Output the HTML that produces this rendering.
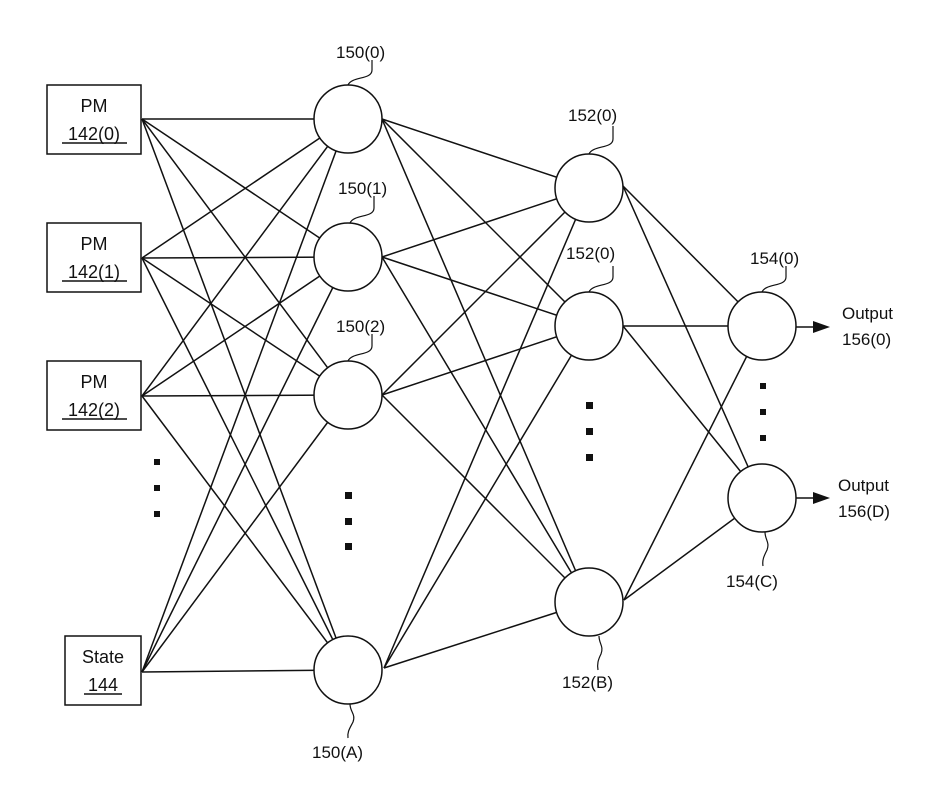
<!DOCTYPE html>
<html><head><style>
body{margin:0;background:#fff;}
svg{display:block;}
text{font-family:"Liberation Sans",sans-serif;fill:#111;}
</style></head><body>
<svg width="939" height="788" viewBox="0 0 939 788" xmlns="http://www.w3.org/2000/svg">
<g stroke="#111" stroke-width="1.5" fill="none">
<line x1="142" y1="119" x2="348" y2="119"/><line x1="142" y1="119" x2="348" y2="257"/><line x1="142" y1="119" x2="348" y2="395"/><line x1="142" y1="119" x2="348" y2="670"/>
<line x1="142" y1="258" x2="348" y2="119"/><line x1="142" y1="258" x2="348" y2="257"/><line x1="142" y1="258" x2="348" y2="395"/><line x1="142" y1="258" x2="348" y2="670"/>
<line x1="142" y1="396" x2="348" y2="119"/><line x1="142" y1="396" x2="348" y2="257"/><line x1="142" y1="396" x2="348" y2="395"/><line x1="142" y1="396" x2="348" y2="670"/>
<line x1="142" y1="672" x2="348" y2="119"/><line x1="142" y1="672" x2="348" y2="257"/><line x1="142" y1="672" x2="348" y2="395"/><line x1="142" y1="672" x2="348" y2="670"/>
<line x1="382" y1="119" x2="589" y2="188"/><line x1="382" y1="119" x2="589" y2="326"/><line x1="382" y1="119" x2="589" y2="602"/>
<line x1="382" y1="257" x2="589" y2="188"/><line x1="382" y1="257" x2="589" y2="326"/><line x1="382" y1="257" x2="589" y2="602"/>
<line x1="382" y1="395" x2="589" y2="188"/><line x1="382" y1="395" x2="589" y2="326"/><line x1="382" y1="395" x2="589" y2="602"/>
<line x1="384" y1="668" x2="589" y2="188"/><line x1="384" y1="668" x2="589" y2="326"/><line x1="384" y1="668" x2="589" y2="602"/>
<line x1="623" y1="186" x2="762" y2="326"/><line x1="623" y1="186" x2="762" y2="498"/>
<line x1="623" y1="326" x2="762" y2="326"/><line x1="623" y1="326" x2="762" y2="498"/>
<line x1="624" y1="600" x2="762" y2="326"/><line x1="624" y1="600" x2="762" y2="498"/>
<line x1="796" y1="327" x2="815" y2="327"/><line x1="796" y1="498" x2="815" y2="498"/>
</g>
<polygon points="813,321 830,327 813,333" fill="#111"/>
<polygon points="813,492 830,498 813,504" fill="#111"/>
<g stroke="#111" stroke-width="1.5" fill="#fff">
<rect x="47" y="85" width="94" height="69"/>
<rect x="47" y="223" width="94" height="69"/>
<rect x="47" y="361" width="94" height="69"/>
<rect x="65" y="636" width="76" height="69"/>
<circle cx="348" cy="119" r="34"/><circle cx="348" cy="257" r="34"/><circle cx="348" cy="395" r="34"/><circle cx="348" cy="670" r="34"/>
<circle cx="589" cy="188" r="34"/><circle cx="589" cy="326" r="34"/><circle cx="589" cy="602" r="34"/>
<circle cx="762" cy="326" r="34"/><circle cx="762" cy="498" r="34"/>
</g>
<g stroke="#111" stroke-width="1.2" fill="none">
<path d="M348 85 C352 76,372 80,372 70 L372 60"/>
<path d="M350 223 C354 214,374 218,374 208 L374 196"/>
<path d="M348 361 C352 352,372 356,372 346 L372 334"/>
<path d="M350 704 C350 712,356 714,353 722 C350 728,347 732,348 738"/>
<path d="M589 154 C593 145,613 149,613 139 L613 126"/>
<path d="M589 292 C593 283,613 287,613 277 L613 266"/>
<path d="M599 636 C599 644,604 646,601 654 C598 660,597 664,598 670"/>
<path d="M762 292 C766 283,786 287,786 277 L786 266"/>
<path d="M765 532 C765 540,770 542,767 550 C764 556,762 560,763 566"/>
</g>
<g font-size="18" text-anchor="middle">
<text x="94" y="112">PM</text><text x="94" y="140">142(0)</text>
<text x="94" y="250">PM</text><text x="94" y="278">142(1)</text>
<text x="94" y="388">PM</text><text x="94" y="416">142(2)</text>
<text x="103" y="663">State</text><text x="103" y="691">144</text>
</g>
<g stroke="#111" stroke-width="1.5">
<line x1="62" y1="143" x2="127" y2="143"/>
<line x1="62" y1="281" x2="127" y2="281"/>
<line x1="62" y1="419" x2="127" y2="419"/>
<line x1="84" y1="694" x2="122" y2="694"/>
</g>
<g font-size="17">
<text x="336" y="58">150(0)</text>
<text x="338" y="194">150(1)</text>
<text x="336" y="332">150(2)</text>
<text x="312" y="758">150(A)</text>
<text x="568" y="121">152(0)</text>
<text x="566" y="259">152(0)</text>
<text x="562" y="688">152(B)</text>
<text x="750" y="264">154(0)</text>
<text x="726" y="587">154(C)</text>
<text x="842" y="319">Output</text><text x="842" y="345">156(0)</text>
<text x="838" y="491">Output</text><text x="838" y="517">156(D)</text>
</g>
<g fill="#111">
<rect x="154" y="459" width="6" height="6"/><rect x="154" y="485" width="6" height="6"/><rect x="154" y="511" width="6" height="6"/>
<rect x="345" y="492" width="7" height="7"/><rect x="345" y="518" width="7" height="7"/><rect x="345" y="543" width="7" height="7"/>
<rect x="586" y="402" width="7" height="7"/><rect x="586" y="428" width="7" height="7"/><rect x="586" y="454" width="7" height="7"/>
<rect x="760" y="383" width="6" height="6"/><rect x="760" y="409" width="6" height="6"/><rect x="760" y="435" width="6" height="6"/>
</g>
</svg>
</body></html>
